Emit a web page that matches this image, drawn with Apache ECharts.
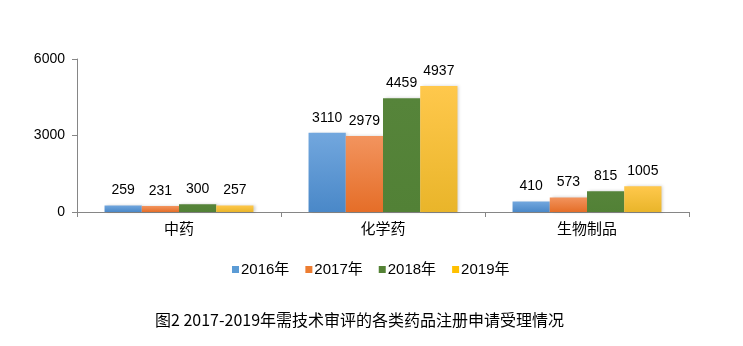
<!DOCTYPE html>
<html>
<head>
<meta charset="utf-8">
<script src="https://cdn.jsdelivr.net/npm/echarts@6/dist/echarts.min.js"></script>
<style>
  html, body { margin: 0; padding: 0; background: #fff; }
  #chart { width: 743px; height: 346px; }
</style>
</head>
<body>
<div id="chart"></div>
<script>
// Drug categories and yearly accepted applications
const categories = ['中药', '化学药', '生物制品'];
const seriesNames = ['2016年', '2017年', '2018年', '2019年'];
const values2016 = [259, 3110, 410];
const values2017 = [231, 2979, 573];
const values2018 = [300, 4459, 815];
const values2019 = [257, 4937, 1005];
const yTicks = [0, 3000, 6000];
const titleText = '图2 2017-2019年需技术审评的各类药品注册申请受理情况';

const fontFam = '"Liberation Sans", "Noto Sans CJK SC", sans-serif';

function grad(top, bottom) {
  return new echarts.graphic.LinearGradient(0, 0, 0, 1, [
    { offset: 0, color: top },
    { offset: 1, color: bottom }
  ]);
}

const fills = [
  { c: grad('#72a7de', '#4a88c8'), legend: '#5b9bd5' },
  { c: grad('#f2945e', '#e56e28'), legend: '#ed7d31' },
  { c: grad('#56843a', '#528136'), legend: '#548235' },
  { c: grad('#ffc84c', '#e9b52a'), legend: '#ffc000' }
];

const allValues = [values2016, values2017, values2018, values2019];

const chart = echarts.init(document.getElementById('chart'));
chart.setOption({
  animation: false,
  backgroundColor: '#fff',
  title: {
    text: titleText,
    left: 150,
    top: 307,
    textStyle: { fontFamily: '"Noto Sans CJK SC", sans-serif', fontSize: 16, fontWeight: 'normal', color: '#000' }
  },
  legend: {
    data: seriesNames.map((n, i) => ({ name: n, itemStyle: { color: fills[i].legend } })),
    left: 227,
    top: 257,
    itemWidth: 7,
    itemHeight: 7,
    itemGap: 16,
    icon: 'rect',
    textStyle: { fontFamily: fontFam, fontSize: 15, color: '#000', padding: [0, 0, 0, -3] }
  },
  grid: { left: 77, right: 54, top: 59, bottom: 134, containLabel: false },
  xAxis: {
    type: 'category',
    data: categories,
    axisLine: { lineStyle: { color: '#868686', width: 1 } },
    axisTick: { show: true, length: 5, lineStyle: { color: '#868686' } },
    axisLabel: { fontFamily: fontFam, fontSize: 15, color: '#000', margin: 10 }
  },
  yAxis: {
    type: 'value',
    min: yTicks[0],
    max: yTicks[yTicks.length - 1],
    interval: yTicks[1] - yTicks[0],
    axisLine: { show: true, lineStyle: { color: '#868686', width: 1 } },
    axisTick: { show: true, length: 5, lineStyle: { color: '#868686' } },
    splitLine: { show: false },
    axisLabel: {
      fontFamily: fontFam, fontSize: 14, color: '#000', margin: 12,
      formatter: v => String(v)
    }
  },
  series: seriesNames.map((name, i) => ({
    name: name,
    type: 'bar',
    data: allValues[i],
    barGap: '0%',
    barCategoryGap: '27%',
    itemStyle: {
      color: fills[i].c,
      shadowColor: 'rgba(0,0,0,0.18)',
      shadowBlur: 3,
      shadowOffsetX: 2,
      shadowOffsetY: 0
    },
    label: {
      show: true,
      position: 'top',
      distance: 8,
      fontFamily: fontFam,
      fontSize: 14,
      color: '#000'
    }
  }))
});
</script>
</body>
</html>
